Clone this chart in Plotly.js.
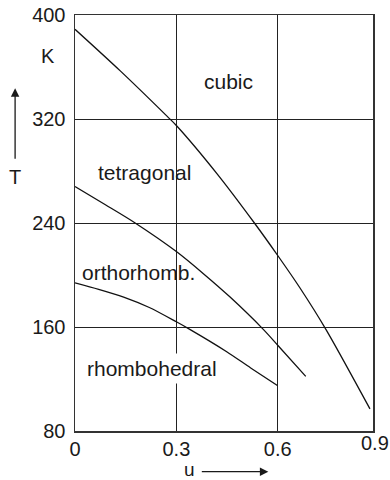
<!DOCTYPE html>
<html>
<head>
<meta charset="utf-8">
<script src="https://cdn.plot.ly/plotly-3.0.1.min.js"></script>
<style>
  html, body { margin: 0; padding: 0; background: #fff; }
  #chart { width: 390px; height: 480px; }
</style>
</head>
<body>
<div id="chart"></div>
<script>
// Phase boundaries T(u) of the structural transitions
const uCubic = [0, 0.134, 0.273, 0.3, 0.42, 0.531, 0.6, 0.666, 0.743, 0.873];
const tCubic = [389, 357, 322, 315, 278, 240, 215, 190, 158, 97];

const uTetra = [0, 0.09, 0.178, 0.3, 0.38, 0.459, 0.558, 0.6, 0.683];
const tTetra = [268, 254, 240, 218, 201, 183, 158, 146, 122];

const uOrtho = [0, 0.07, 0.144, 0.22, 0.3, 0.341, 0.449, 0.52, 0.599];
const tOrtho = [194, 189, 183, 175, 164, 158, 141, 128.5, 115];

// Axis ticks
const xTickVals = [0, 0.3, 0.6, 0.9];
const xTickText = ['0', '0.3', '0.6', '0.9'];
const yTickVals = [80, 160, 240, 320, 400];
const yTickText = ['80', '160', '240', '320', '400'];

// Phase names
const phaseNames = ['cubic', 'tetragonal', 'orthorhomb.', 'rhombohedral'];

const FONT = 'Liberation Sans, Arial, Helvetica, sans-serif';
const INK = '#1a1a1a';

const lineStyle = { color: '#111', width: 1.3, shape: 'spline', smoothing: 0.8 };

const traces = [
  { x: uCubic, y: tCubic, mode: 'lines', line: lineStyle, hoverinfo: 'skip' },
  { x: uTetra, y: tTetra, mode: 'lines', line: lineStyle, hoverinfo: 'skip' },
  { x: uOrtho, y: tOrtho, mode: 'lines', line: lineStyle, hoverinfo: 'skip' }
];

// x axis stops just short of 0.9; its last label is placed at the right edge
const xMax = 0.882;
const inRange = xTickVals.filter(v => v <= xMax);

const axisCommon = {
  showgrid: true,
  gridcolor: '#222',
  gridwidth: 1,
  showline: true,
  mirror: true,
  linecolor: '#333',
  linewidth: 1.5,
  zeroline: false,
  ticks: '',
  fixedrange: true,
  tickfont: { family: FONT, size: 20, color: INK }
};

function label(text, x, y, extra) {
  return Object.assign({
    x: x, y: y, xref: 'paper', yref: 'paper', text: text, showarrow: false,
    xanchor: 'center', yanchor: 'middle',
    font: { family: FONT, size: 20, color: INK }
  }, extra || {});
}

function phaseLabel(text, x, y, extra) {
  return Object.assign({
    x: x, y: y, xref: 'x', yref: 'y', text: text, showarrow: false,
    xanchor: 'center', yanchor: 'middle',
    font: { family: FONT, size: 21, color: INK }
  }, extra || {});
}

const layout = {
  width: 390,
  height: 480,
  margin: { l: 75, r: 17, t: 15, b: 49, pad: 0 },
  paper_bgcolor: '#fff',
  plot_bgcolor: '#fff',
  showlegend: false,
  font: { family: FONT, size: 20, color: INK },
  xaxis: Object.assign({}, axisCommon, {
    range: [0, xMax],
    tickvals: inRange,
    ticktext: xTickText.slice(0, inRange.length),
    ticklabelstandoff: -1
  }),
  yaxis: Object.assign({}, axisCommon, {
    range: [80, 400],
    tickvals: yTickVals,
    ticktext: yTickText,
    ticklabelstandoff: 4
  }),
  annotations: [
    // region labels
    phaseLabel(phaseNames[0], 0.455, 349),
    phaseLabel(phaseNames[1], 0.207, 279),
    phaseLabel(phaseNames[2], 0.189, 202),
    phaseLabel(phaseNames[3], 0.228, 128, { bgcolor: '#fff', borderpad: 3 }),
    // last x tick label
    label(xTickText[3], 1, 0, { yanchor: 'top', xshift: 2, yshift: 1 }),
    // y axis title: unit, symbol and upward arrow
    label('K', -0.0896, 0.901),
    label('T', -0.201, 0.611),
    { x: -0.201, y: 0.824, xref: 'paper', yref: 'paper', text: '', showarrow: true,
      axref: 'pixel', ayref: 'pixel', ax: 0, ay: 72,
      arrowhead: 2, arrowsize: 1.3, arrowwidth: 1.3, arrowcolor: INK, standoff: 0 },
    // x axis title with rightward arrow
    label('u', 0.3826, -0.0962, { yshift: 1.5, font: { family: FONT, size: 19, color: INK } }),
    { x: 0.6487, y: -0.0978, xref: 'paper', yref: 'paper', text: '', showarrow: true,
      axref: 'pixel', ayref: 'pixel', ax: -68, ay: 0,
      arrowhead: 2, arrowsize: 1.3, arrowwidth: 1.3, arrowcolor: INK, standoff: 0 }
  ]
};

Plotly.newPlot('chart', traces, layout, { displayModeBar: false, staticPlot: true });
</script>
</body>
</html>
